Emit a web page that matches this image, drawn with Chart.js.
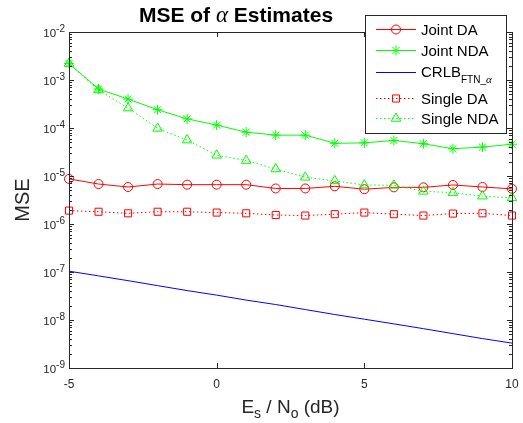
<!DOCTYPE html>
<html>
<head>
<meta charset="utf-8">
<script src="https://cdn.jsdelivr.net/npm/chart.js@4"></script>
<style>
  body { margin: 0; background: #fff; }
  canvas { display: block; }
</style>
</head>
<body>
<canvas id="chart" width="523" height="423"></canvas>
<script>
// Es/No values (dB) on the x axis
const snr = [-5, -4, -3, -2, -1, 0, 1, 2, 3, 4, 5, 6, 7, 8, 9, 10];

// MSE values
const jointDA = [8.7e-6, 6.8e-6, 5.9e-6, 6.8e-6, 6.6e-6, 6.6e-6, 6.6e-6, 5.5e-6, 5.5e-6, 6.1e-6, 5.3e-6, 5.8e-6, 5.8e-6, 6.5e-6, 5.9e-6, 5.4e-6];
const jointNDA = [2.2e-3, 6.5e-4, 4.0e-4, 2.4e-4, 1.55e-4, 1.15e-4, 8.2e-5, 7.1e-5, 7.1e-5, 4.8e-5, 4.9e-5, 5.5e-5, 4.7e-5, 3.7e-5, 4.0e-5, 4.6e-5];
const crlb = [1.04e-7, 8.3e-8, 6.6e-8, 5.2e-8, 4.1e-8, 3.3e-8, 2.6e-8, 2.1e-8, 1.65e-8, 1.3e-8, 1.04e-8, 8.3e-9, 6.6e-9, 5.2e-9, 4.1e-9, 3.3e-9];
const singleDA = [1.9e-6, 1.8e-6, 1.67e-6, 1.8e-6, 1.8e-6, 1.73e-6, 1.67e-6, 1.54e-6, 1.5e-6, 1.6e-6, 1.73e-6, 1.6e-6, 1.5e-6, 1.65e-6, 1.67e-6, 1.5e-6];
const singleNDA = [2.2e-3, 6.2e-4, 2.6e-4, 9.8e-5, 5.6e-5, 2.7e-5, 2.1e-5, 1.4e-5, 9.4e-6, 7.9e-6, 6.5e-6, 6.4e-6, 4.8e-6, 4.5e-6, 3.8e-6, 3.5e-6];

// tick labels
const xTicks = [-5, 0, 5, 10];
const yExponents = [-2, -3, -4, -5, -6, -7, -8, -9];

const AXIS_COLOR = '#262626';
const SANS = 'Arial, "Liberation Sans", Helvetica, sans-serif';

function pts(values) {
    return values.map((v, i) => ({ x: snr[i], y: v }));
}

function series(label, values, color, style, radius, dotted, order) {
    return {
        label: label,
        data: pts(values),
        borderColor: color,
        backgroundColor: color,
        borderWidth: 1,
        borderDash: dotted ? [1.5, 2.5] : [],
        pointStyle: style || false,
        pointRadius: style ? radius : 0,
        pointBorderColor: color,
        pointBackgroundColor: 'rgba(0,0,0,0)',
        pointBorderWidth: 1,
        tension: 0,
        clip: false,
        order: order
    };
}

const datasets = [
    series('Joint DA', jointDA, '#ff0000', 'circle', 4.5, false, 5),
    series('Joint NDA', jointNDA, '#00ff00', 'star', 5, false, 4),
    series('CRLB', crlb, '#0000ff', null, 0, false, 3),
    series('Single DA', singleDA, '#ff0000', 'rect', 5, true, 2),
    series('Single NDA', singleNDA, '#00ff00', 'triangle', 5.5, true, 1)
];

// draws the matlab style box, ticks, labels and legend
const matlabAxes = {
    id: 'matlabAxes',
    afterDraw(chart) {
        const ctx = chart.ctx;
        const area = chart.chartArea;
        const xs = chart.scales.x;
        const ys = chart.scales.y;
        ctx.save();

        // box
        ctx.strokeStyle = AXIS_COLOR;
        ctx.lineWidth = 1;
        ctx.strokeRect(Math.round(area.left) + 0.5, Math.round(area.top) + 0.5,
            Math.round(area.right - area.left), Math.round(area.bottom - area.top));

        // x ticks, bottom and top
        ctx.beginPath();
        xTicks.forEach(t => {
            const px = Math.round(xs.getPixelForValue(t)) + 0.5;
            ctx.moveTo(px, area.bottom);
            ctx.lineTo(px, area.bottom - 5);
            ctx.moveTo(px, area.top);
            ctx.lineTo(px, area.top + 5);
        });
        // y ticks, major and minor, left and right
        yExponents.forEach(e => {
            for (let m = 1; m <= 9; m++) {
                const v = m * Math.pow(10, e);
                if (v > 1e-2 * 1.0001 || v < 1e-9 * 0.9999) continue;
                const py = Math.round(ys.getPixelForValue(v)) + 0.5;
                const len = m === 1 ? 5 : 3;
                ctx.moveTo(area.left, py);
                ctx.lineTo(area.left + len, py);
                ctx.moveTo(area.right, py);
                ctx.lineTo(area.right - len, py);
            }
        });
        ctx.stroke();

        // tick labels
        ctx.fillStyle = AXIS_COLOR;
        ctx.textBaseline = 'alphabetic';
        ctx.font = '12px ' + SANS;
        ctx.textAlign = 'center';
        xTicks.forEach(t => {
            ctx.fillText(String(t), xs.getPixelForValue(t), 388);
        });
        yExponents.forEach(e => {
            const py = ys.getPixelForValue(Math.pow(10, e));
            ctx.font = '10px ' + SANS;
            const sup = String(e);
            const supW = ctx.measureText(sup).width;
            ctx.textAlign = 'left';
            const right = area.left - 4;
            ctx.fillText(sup, right - supW, py + 0);
            ctx.font = '11.5px ' + SANS;
            ctx.textAlign = 'right';
            ctx.fillText('10', right - supW, py + 5);
        });

        // title
        const tParts = [
            { t: 'MSE of ', f: 'bold 21px ' + SANS },
            { t: '\u03b1', f: 'italic 23px "Liberation Serif", "Times New Roman", serif' },
            { t: ' Estimates', f: 'bold 21px ' + SANS }
        ];
        drawRun(ctx, tParts, 236, 22, '#000');

        // x label with subscripts
        const xl = [
            { t: 'E', f: '19px ' + SANS },
            { t: 's', f: '14px ' + SANS, dy: 5 },
            { t: ' / N', f: '19px ' + SANS },
            { t: 'o', f: '14px ' + SANS, dy: 5 },
            { t: ' (dB)', f: '19px ' + SANS }
        ];
        drawRun(ctx, xl, (area.left + area.right) / 2, 413, AXIS_COLOR);

        // y label
        ctx.save();
        ctx.translate(29, (area.top + area.bottom) / 2);
        ctx.rotate(-Math.PI / 2);
        ctx.font = '20px ' + SANS;
        ctx.textAlign = 'center';
        ctx.fillStyle = AXIS_COLOR;
        ctx.fillText('MSE', 0, 0);
        ctx.restore();

        // legend
        const lx = 365, ly = 15, lw = 141, lh = 118;
        ctx.fillStyle = '#fff';
        ctx.fillRect(lx, ly, lw, lh);
        ctx.strokeStyle = AXIS_COLOR;
        ctx.strokeRect(lx + 0.5, ly + 0.5, lw, lh);
        const rows = [29, 50, 72, 98, 118];
        datasets.forEach((ds, i) => {
            const y = rows[i] + 0.5;
            ctx.save();
            ctx.strokeStyle = ds.borderColor;
            ctx.lineWidth = 1;
            ctx.setLineDash(ds.borderDash);
            ctx.beginPath();
            ctx.moveTo(376, y);
            ctx.lineTo(416, y);
            ctx.stroke();
            ctx.restore();
            if (ds.pointStyle) {
                ctx.save();
                ctx.strokeStyle = ds.borderColor;
                ctx.fillStyle = 'rgba(0,0,0,0)';
                ctx.lineWidth = 1;
                Chart.helpers.drawPoint(ctx, { pointStyle: ds.pointStyle, radius: ds.pointRadius, rotation: 0, borderWidth: 1 }, 396, y);
                ctx.restore();
            }
            ctx.fillStyle = '#000';
            if (i === 2) {
                drawRun(ctx, [
                    { t: 'CRLB', f: '15px ' + SANS },
                    { t: 'FTN_', f: '10px ' + SANS, dy: 6 },
                    { t: '\u03b1', f: 'italic 11px "Liberation Serif", serif', dy: 6 }
                ], null, y + 4, '#000', 421);
            } else {
                ctx.font = '15px ' + SANS;
                ctx.textAlign = 'left';
                ctx.fillText(ds.label, 421, y + 5);
            }
        });

        ctx.restore();
    }
};

// draws a run of text pieces, centred at cx or starting at left
function drawRun(ctx, parts, cx, baseline, color, left) {
    ctx.save();
    ctx.textAlign = 'left';
    ctx.fillStyle = color;
    let total = 0;
    parts.forEach(p => { ctx.font = p.f; p.w = ctx.measureText(p.t).width; total += p.w; });
    let x = left !== undefined ? left : cx - total / 2;
    parts.forEach(p => {
        ctx.font = p.f;
        ctx.fillText(p.t, x, baseline + (p.dy || 0));
        x += p.w;
    });
    ctx.restore();
}

const ctx = document.getElementById('chart');
const mseChart = new Chart(ctx, {
    type: 'line',
    data: { datasets: datasets },
    options: {
        responsive: false,
        animation: false,
        devicePixelRatio: 1,
        layout: { padding: { left: 69, right: 11, top: 32, bottom: 55 } },
        plugins: {
            legend: { display: false },
            title: { display: false },
            tooltip: { enabled: false }
        },
        scales: {
            x: { type: 'linear', min: -5, max: 10, display: false },
            y: { type: 'logarithmic', min: 1e-9, max: 1e-2, display: false }
        }
    },
    plugins: [matlabAxes]
});
</script>
</body>
</html>
